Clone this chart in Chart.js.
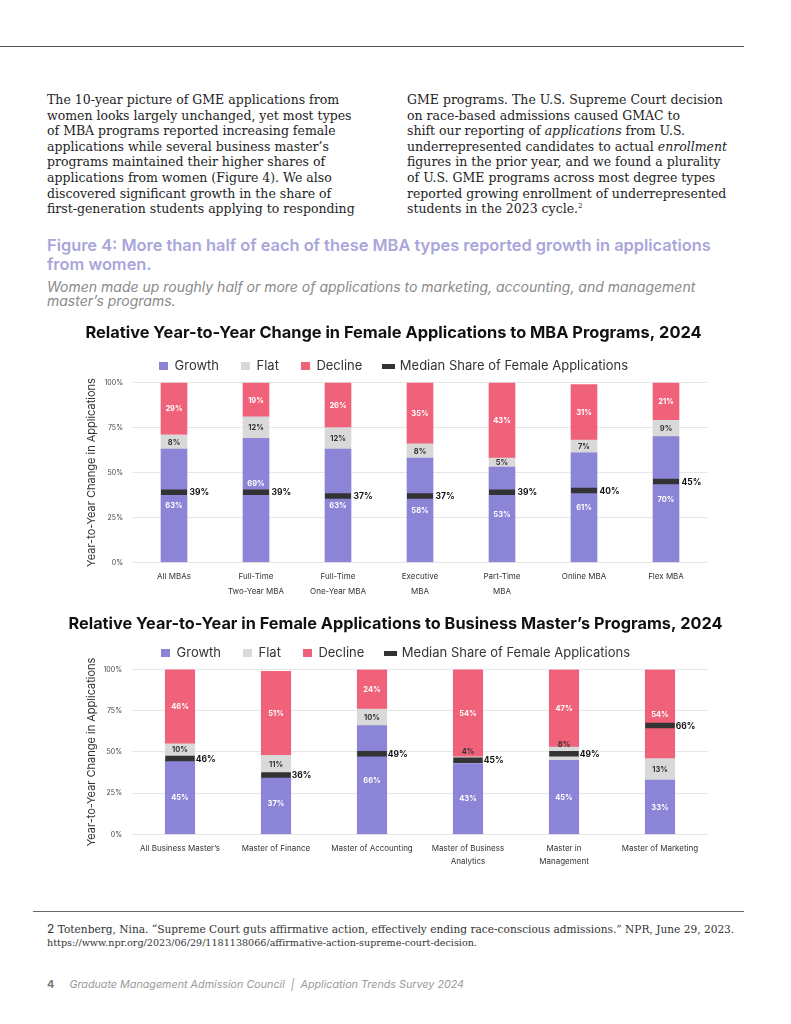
<!DOCTYPE html>
<html>
<head>
<meta charset="utf-8">
<script src="https://cdn.jsdelivr.net/npm/chart.js@4.4.1/dist/chart.umd.min.js"></script>
<style>
  html, body { margin: 0; padding: 0; background: #fff; }
  body { width: 791px; height: 1024px; position: relative; overflow: hidden; }
  .rule { position: absolute; height: 1px; background: #555; }
  .txt { position: absolute; white-space: nowrap; }
  .body-text { font-family: "DejaVu Serif", serif; font-size: 12.5px; line-height: 15.6px; color: #1e1e1e; }
  .body-text sup { font-size: 7px; line-height: 0; vertical-align: 5px; }
  .fig-title { font-family: Inter, "Open Sans", sans-serif; font-weight: 600; font-size: 16.4px; line-height: 19px; color: #a9a6da; }
  .fig-sub { font-family: Inter, "Open Sans", sans-serif; font-style: italic; font-size: 14px; line-height: 14px; color: #8a8a8a; }
  .foot { font-family: "DejaVu Serif", serif; color: #333; }
  .footer { font-family: Inter, sans-serif; font-size: 10.75px; color: #9a9a9a; font-style: italic; }
  canvas { position: absolute; }
</style>
</head>
<body>
<div class="rule" style="left:0;top:46px;width:744px;"></div>

<div class="txt body-text" style="left:47px;top:92px;">
The 10-year picture of GME applications from<br>
women looks largely unchanged, yet most types<br>
of MBA programs reported increasing female<br>
applications while several business master’s<br>
programs maintained their higher shares of<br>
applications from women (Figure 4). We also<br>
discovered significant growth in the share of<br>
first-generation students applying to responding
</div>
<div class="txt body-text" style="left:407px;top:92px;">
GME programs. The U.S. Supreme Court decision<br>
on race-based admissions caused GMAC to<br>
shift our reporting of <i>applications</i> from U.S.<br>
underrepresented candidates to actual <i>enrollment</i><br>
figures in the prior year, and we found a plurality<br>
of U.S. GME programs across most degree types<br>
reported growing enrollment of underrepresented<br>
students in the 2023 cycle.<sup>2</sup>
</div>

<div class="txt fig-title" style="left:47px;top:236px;">
Figure 4: More than half of each of these MBA types reported growth in applications<br>
from women.
</div>
<div class="txt fig-sub" style="left:47px;top:280px;">
Women made up roughly half or more of applications to marketing, accounting, and management<br>
master’s programs.
</div>

<canvas id="mbaChart" width="650" height="280" style="left:80px;top:318px;"></canvas>
<canvas id="masterChart" width="671" height="260" style="left:60px;top:608px;"></canvas>

<div class="rule" style="left:33px;top:911px;width:711px;background:#666;"></div>
<div class="txt foot" style="left:47px;top:921px;font-size:10.6px;line-height:15px;">
<span style="font-family:Inter,sans-serif;font-size:12px;">2</span> Totenberg, Nina. “Supreme Court guts affirmative action, effectively ending race-conscious admissions.” NPR, June 29, 2023.
</div>
<div class="txt foot" style="left:47px;top:936px;font-size:9.6px;line-height:13px;">
https://www.npr.org/2023/06/29/1181138066/affirmative-action-supreme-court-decision.
</div>
<div class="txt footer" style="left:47px;top:978px;">
<span style="font-style:normal;font-weight:700;color:#777;">4</span>&nbsp;&nbsp;&nbsp;&nbsp;&nbsp;Graduate Management Admission Council&nbsp; | &nbsp;Application Trends Survey 2024
</div>

<script>
// --- MBA programs (top chart)
const mbaCategories = [['All MBAs'], ['Full-Time', 'Two-Year MBA'], ['Full-Time', 'One-Year MBA'], ['Executive', 'MBA'], ['Part-Time', 'MBA'], ['Online MBA'], ['Flex MBA']];
const mbaGrowth = [63, 69, 63, 58, 53, 61, 70];
const mbaFlat = [8, 12, 12, 8, 5, 7, 9];
const mbaDecline = [29, 19, 26, 35, 43, 31, 21];
const mbaMedian = [39, 39, 37, 37, 39, 40, 45];

// --- Business master's programs (bottom chart)
const masterCategories = [['All Business Master’s'], ['Master of Finance'], ['Master of Accounting'], ['Master of Business', 'Analytics'], ['Master in', 'Management'], ['Master of Marketing']];
const masterGrowth = [45, 37, 66, 43, 45, 33];
const masterFlat = [10, 11, 10, 4, 8, 13];
const masterDecline = [46, 51, 24, 54, 47, 54];
const masterMedian = [46, 36, 49, 45, 49, 66];

const yTicks = [0, 25, 50, 75, 100];
const seriesNames = ['Growth', 'Flat', 'Decline', 'Median Share of Female Applications'];

const colors = { growth: '#8b84d7', flat: '#d9d9d9', decline: '#f0627a', median: '#333333' };

Chart.defaults.font.family = 'Inter, "Open Sans", sans-serif';
Chart.defaults.color = '#333';

function swatch(w, h, color) {
  const c = document.createElement('canvas');
  c.width = w;
  c.height = h;
  const g = c.getContext('2d');
  g.fillStyle = color;
  g.fillRect(0, 0, w, h);
  return c;
}
const legendSwatches = [swatch(9, 8, colors.growth), swatch(9, 8, colors.flat), swatch(9, 8, colors.decline), swatch(13, 5, colors.median)];

// writes the % inside each segment and next to the median marker
const segmentLabels = {
  id: 'segmentLabels',
  afterDatasetsDraw(chart, args, opts) {
    const ctx = chart.ctx;
    const medianMeta = chart.getDatasetMeta(3);
    ctx.save();
    ctx.textBaseline = 'middle';
    chart.data.datasets.forEach((ds, di) => {
      const meta = chart.getDatasetMeta(di);
      meta.data.forEach((el, i) => {
        if (meta.type === 'bar') {
          const top = Math.max(el.y, chart.chartArea.top);
          let y = (top + el.base) / 2;
          const my = medianMeta.data[i].y;
          if (Math.abs(y - my) < 9) y = my - 9;
          ctx.font = `700 ${opts.segSize}px Inter, sans-serif`;
          ctx.textAlign = 'center';
          ctx.fillStyle = di === 1 ? '#333' : '#fff';
          ctx.fillText(ds.data[i] + '%', el.x, y + 0.5);
        } else {
          ctx.font = `700 ${opts.medSize}px Inter, sans-serif`;
          ctx.textAlign = 'left';
          ctx.fillStyle = '#111';
          ctx.fillText(ds.data[i] + '%', el.x + opts.half + opts.gap, el.y + 0.5);
        }
      });
    });
    ctx.restore();
  }
};

function buildChart(canvasId, o) {
  const scales = {
    x: {
      stacked: true,
      grid: { display: false },
      border: { display: false },
      ticks: { color: '#333', font: { size: 8, lineHeight: o.xLine }, padding: o.xPad, maxRotation: 0, autoSkip: false }
    },
    y: {
      stacked: true,
      min: 0,
      max: 100,
      afterBuildTicks: scale => { scale.ticks = yTicks.map(v => ({ value: v })); },
      afterFit: scale => { scale.width = o.axisWidth; },
      grid: { color: '#e6e6e6', drawTicks: false },
      border: { display: false },
      ticks: { color: '#444', font: { size: 7 }, padding: 10, callback: v => v + '%' },
      title: { display: true, text: 'Year-to-Year Change in Applications', color: '#333', font: { size: 11 }, padding: { top: o.yTitlePad, bottom: 0 } }
    }
  };
  // empty right-hand axis: keeps the plot narrow without squeezing the title
  if (o.rightGap) {
    scales.yRight = {
      position: 'right', grid: { display: false }, border: { display: false },
      ticks: { display: false }, afterFit: scale => { scale.width = o.rightGap; }
    };
  }
  return new Chart(document.getElementById(canvasId), {
    type: 'bar',
    data: {
      labels: o.categories,
      datasets: [
        { label: seriesNames[0], data: o.growth, backgroundColor: colors.growth, barThickness: o.barWidth, order: 1 },
        { label: seriesNames[1], data: o.flat, backgroundColor: colors.flat, barThickness: o.barWidth, order: 1 },
        { label: seriesNames[2], data: o.decline, backgroundColor: colors.decline, barThickness: o.barWidth, order: 1 },
        {
          label: seriesNames[3], type: 'line', data: o.median, showLine: false, order: 0,
          pointStyle: 'line', pointRadius: o.barWidth / 2, pointBorderWidth: 5.5,
          borderColor: colors.median, backgroundColor: colors.median, pointHoverRadius: o.barWidth / 2
        }
      ]
    },
    options: {
      responsive: false,
      animation: false,
      layout: { padding: { left: 0, right: o.padRight, top: 0, bottom: 0 } },
      plugins: {
        title: { display: true, text: o.title, color: '#111', font: { size: o.titleSize, weight: '700' }, padding: { top: o.titleTop, bottom: o.titleBottom } },
        legend: {
          labels: {
            usePointStyle: true, boxWidth: 9, boxHeight: 9, padding: 22, color: '#333', font: { size: 13 },
            generateLabels(chart) {
              const items = Chart.defaults.plugins.legend.labels.generateLabels(chart);
              items.sort((a, b) => a.datasetIndex - b.datasetIndex);
              items.forEach(it => { it.pointStyle = legendSwatches[it.datasetIndex]; it.lineWidth = 0; });
              return items;
            }
          }
        },
        tooltip: { enabled: false },
        segmentLabels: { segSize: 7.5, medSize: 8.5, half: o.barWidth / 2, gap: o.medGap }
      },
      scales
    },
    plugins: [segmentLabels]
  });
}

buildChart('mbaChart', {
  categories: mbaCategories, growth: mbaGrowth, flat: mbaFlat, decline: mbaDecline, median: mbaMedian,
  title: 'Relative Year-to-Year Change in Female Applications to MBA Programs, 2024',
  titleSize: 16.4, barWidth: 26, axisWidth: 53, padRight: 23, titleTop: 5, titleBottom: -5, xLine: 1.85, xPad: -1, medGap: 2.5,
  yTitlePad: 5
});

buildChart('masterChart', {
  categories: masterCategories, growth: masterGrowth, flat: masterFlat, decline: masterDecline, median: masterMedian,
  title: 'Relative Year-to-Year in Female Applications to Business Master’s Programs, 2024',
  titleSize: 16.3, barWidth: 29.5, axisWidth: 72, padRight: 0, rightGap: 23, titleTop: 6, titleBottom: -9, xLine: 1.6, xPad: 0, medGap: 1,
  yTitlePad: 25
});
</script>
</body>
</html>
